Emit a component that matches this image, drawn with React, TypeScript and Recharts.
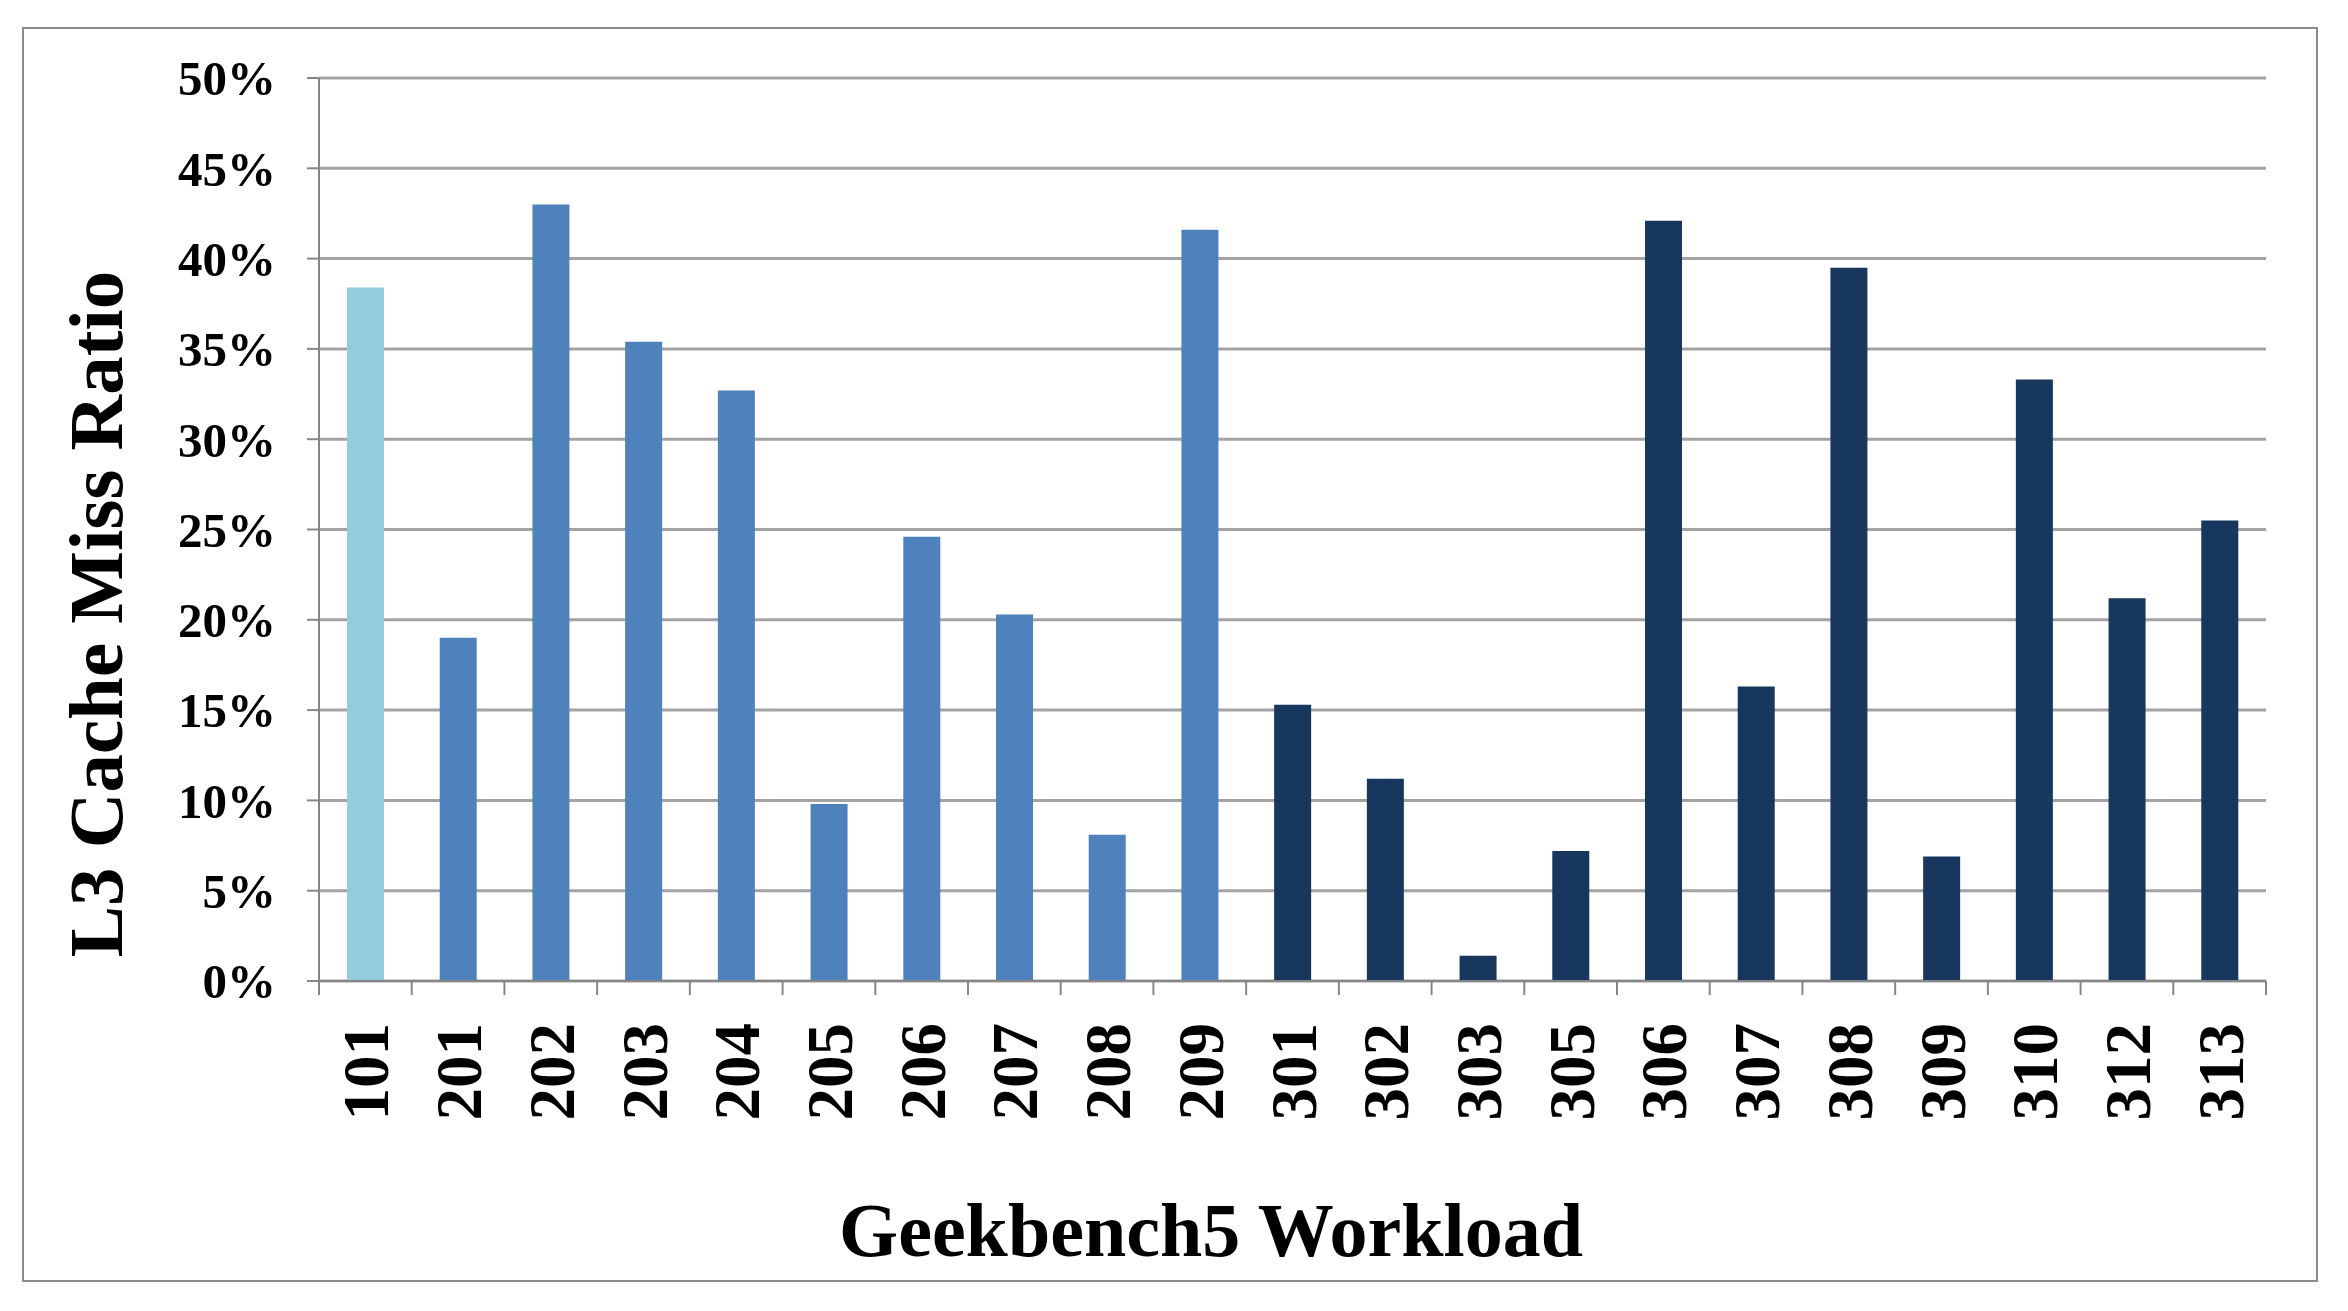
import React from 'react';
import { BarChart, Bar, XAxis, YAxis, CartesianGrid, Cell } from 'recharts';

const workloads = ['101', '201', '202', '203', '204', '205', '206', '207', '208', '209', '301', '302', '303', '305', '306', '307', '308', '309', '310', '312', '313'];
const missRatio = [38.4, 19.0, 43.0, 35.4, 32.7, 9.8, 24.6, 20.3, 8.1, 41.6, 15.3, 11.2, 1.4, 7.2, 42.1, 16.3, 39.5, 6.9, 33.3, 21.2, 25.5];
const yTicks = [0, 5, 10, 15, 20, 25, 30, 35, 40, 45, 50];

// bar colour by workload group (first digit)
const groupColors: Record<string, string> = {
  '1': '#93CDDD',
  '2': '#4F81BD',
  '3': '#17375E',
};

const W = 2348;
const H = 1311;
const FONT = '"Liberation Serif", "Times New Roman", serif';
const AXIS_GRAY = '#868686';

const data = workloads.map((w, i) => ({ name: w, value: missRatio[i] }));

// Excel-style: tick marks between categories, rotated labels centred on bars
const XTick = (props: any) => {
  const { x, y, payload, index } = props;
  const half = payload?.offset ?? 46;
  return (
    <g>
      <line x1={x - half} y1={y} x2={x - half} y2={y + 14} stroke={AXIS_GRAY} strokeWidth={2} />
      {index === workloads.length - 1 && (
        <line x1={x + half} y1={y} x2={x + half} y2={y + 14} stroke={AXIS_GRAY} strokeWidth={2} />
      )}
      <text
        transform={`translate(${x + 23},${y + 42}) rotate(-90)`}
        textAnchor="end"
        fontFamily={FONT}
        fontWeight="bold"
        fontSize={65}
        fill="#000"
      >
        {payload.value}
      </text>
    </g>
  );
};

export default function App() {
  return (
    <div style={{ position: 'absolute', left: 0, top: 0, width: W, height: H, background: '#fff' }}>
      <div
        style={{
          position: 'absolute',
          left: 22,
          top: 27,
          width: 2296,
          height: 1255,
          border: '2px solid #8c8c8c',
          boxSizing: 'border-box',
        }}
      />
      <div style={{ position: 'absolute', left: 0, top: 0 }}>
        <BarChart width={W} height={H} data={data} margin={{ top: 78, right: 82, left: 119, bottom: 130 }}>
          <CartesianGrid vertical={false} stroke="#a3a3a3" strokeWidth={3} />
          <XAxis
            dataKey="name"
            height={200}
            interval={0}
            tickSize={0}
            tickMargin={0}
            tickLine={false}
            axisLine={{ stroke: AXIS_GRAY, strokeWidth: 2 }}
            tick={<XTick />}
          />
          <YAxis
            width={200}
            domain={[0, 50]}
            ticks={yTicks}
            interval={0}
            tickSize={12}
            tickMargin={31}
            tickFormatter={(v: number) => `${v}%`}
            axisLine={{ stroke: AXIS_GRAY, strokeWidth: 2 }}
            tickLine={{ stroke: AXIS_GRAY, strokeWidth: 2 }}
            tick={{ fontFamily: FONT, fontWeight: 'bold', fontSize: 49, fill: '#000' }}
          />
          <Bar dataKey="value" barSize={37} isAnimationActive={false}>
            {data.map((d) => (
              <Cell key={d.name} fill={groupColors[d.name[0]]} />
            ))}
          </Bar>
        </BarChart>
      </div>
      <div
        style={{
          position: 'absolute',
          left: 96,
          top: 614,
          transform: 'translate(-50%, -50%) rotate(-90deg)',
          whiteSpace: 'nowrap',
          fontFamily: FONT,
          fontWeight: 'bold',
          fontSize: 77,
          lineHeight: 1,
          color: '#000',
        }}
      >
        L3 Cache Miss Ratio
      </div>
      <div
        style={{
          position: 'absolute',
          left: 1211,
          top: 1230,
          transform: 'translate(-50%, -50%)',
          whiteSpace: 'nowrap',
          fontFamily: FONT,
          fontWeight: 'bold',
          fontSize: 76,
          lineHeight: 1,
          color: '#000',
        }}
      >
        Geekbench5 Workload
      </div>
    </div>
  );
}
